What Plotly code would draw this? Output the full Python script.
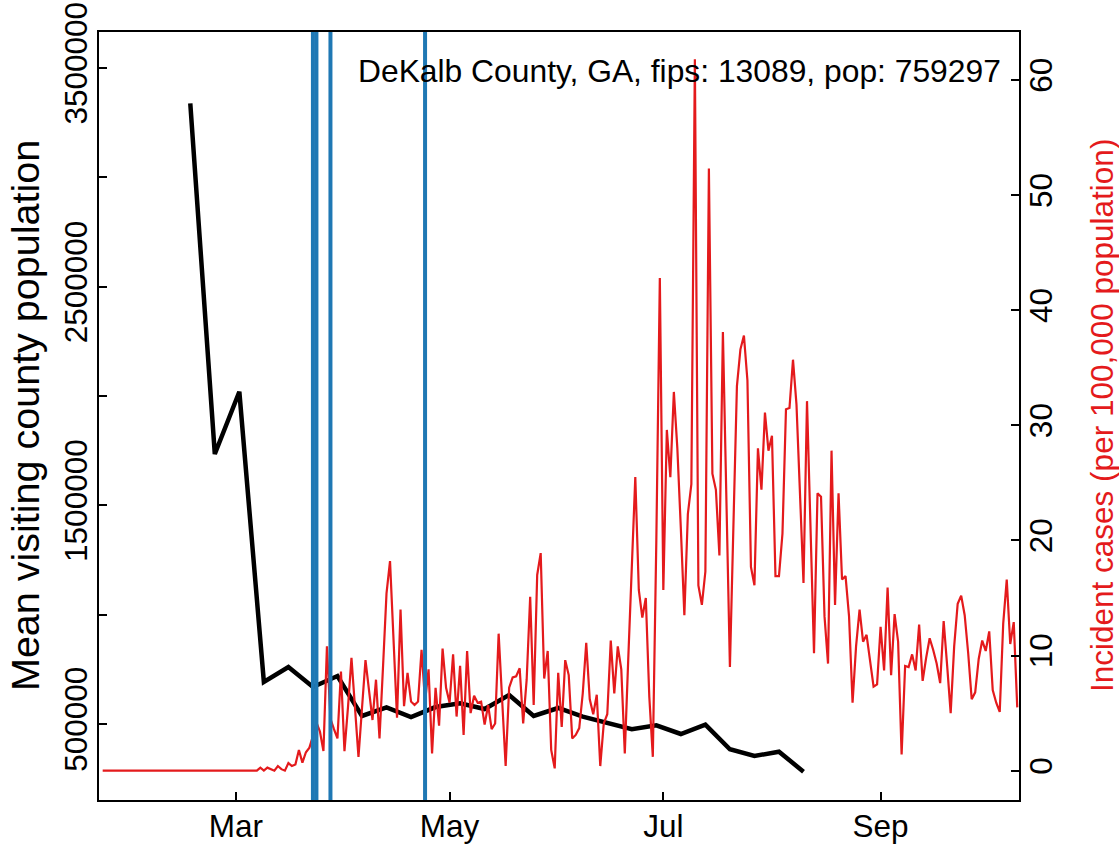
import pandas as pd
import plotly.graph_objects as go

# weekly mean visiting county population (black line)
visit_start = '2020-02-17'
visit_pop = [3338600, 1734800, 2019700, 692100, 760700, 669200, 719500, 536600,
             576400, 532000, 577500, 594700, 568600, 632600, 536600, 573200,
             533400, 503200, 475800, 494100, 454300, 496800, 384300, 353700,
             373300, 281900]

# daily incident cases per 100,000 (red line), from 2020-01-23
case_start = '2020-01-23'
cases = [0.0] * 45 + [
    0.26, 0.0, 0.26, 0.13, 0.0, 0.4, 0.13, 0.0, 0.66, 0.4, 0.53, 1.8, 0.7, 1.6,
    2.0, 3.0, 4.2, 3.4, 1.7, 10.8, 4.5, 3.6, 2.8, 8.6, 1.7, 5.5, 9.8, 5.5, 1.2,
    5.4, 9.6, 7.0, 4.4, 7.9, 2.8, 9.0, 15.4, 18.2, 11.4, 4.6, 14.0, 5.6, 8.5,
    6.0, 5.7, 6.0, 10.5, 6.0, 8.8, 1.5, 7.2, 3.9, 10.6, 7.2, 5.9, 10.1, 4.7,
    9.1, 3.1, 10.4, 5.0, 6.5, 5.9, 6.0, 4.0, 5.7, 3.6, 4.1, 11.9, 6.5, 0.4, 7.2,
    8.1, 8.2, 8.9, 4.1, 7.9, 15.1, 5.7, 17.0, 18.9, 8.0, 10.4, 1.8, 0.2, 8.5,
    3.8, 9.6, 8.3, 2.8, 3.1, 3.7, 6.7, 11.1, 6.2, 4.9, 6.6, 0.4, 4.1, 4.9,
    11.3, 6.7, 10.8, 8.8, 1.5, 9.8, 18.0, 25.5, 15.7, 13.3, 15.0, 6.4, 1.2,
    20.0, 42.8, 15.7, 29.6, 25.5, 32.9, 28.0, 21.0, 13.5, 22.3, 24.9, 61.8,
    16.1, 14.4, 17.3, 52.3, 25.8, 24.4, 18.7, 38.1, 23.5, 9.0, 21.3, 33.4,
    36.6, 37.8, 33.9, 17.7, 16.1, 28.0, 24.4, 31.1, 27.8, 29.1, 16.9, 16.9,
    20.6, 31.4, 31.5, 35.7, 31.8, 24.4, 16.3, 32.1, 21.0, 10.2, 24.1, 23.8,
    13.4, 9.3, 27.8, 14.4, 24.1, 16.6, 16.9, 13.4, 5.9, 10.8, 14.0, 11.2, 11.8,
    9.6, 7.3, 7.5, 12.5, 8.7, 15.9, 8.3, 13.6, 11.2, 1.4, 9.1, 9.0, 10.1, 8.7,
    12.7, 7.8, 9.8, 11.5, 10.5, 9.3, 7.6, 13.0, 9.1, 5.0, 10.8, 14.5, 15.2,
    13.5, 10.2, 6.2, 6.8, 9.7, 11.3, 10.4, 12.1, 7.0, 5.9, 5.1, 12.8, 16.6,
    11.0, 12.9, 5.5]

# policy dates (blue vertical lines)
event_dates = ['2020-03-23', '2020-03-24', '2020-03-28', '2020-04-24']

month_ticks = ['2020-03-01', '2020-05-01', '2020-07-01', '2020-09-01']
month_labels = ['Mar', 'May', 'Jul', 'Sep']
pop_ticks = [500000, 1000000, 1500000, 2000000, 2500000, 3000000, 3500000]
pop_labels = ['500000', '', '1500000', '', '2500000', '', '3500000']
case_ticks = [0, 10, 20, 30, 40, 50, 60]

title_text = 'DeKalb County, GA, fips: 13089, pop: 759297'

visit_dates = pd.date_range(visit_start, periods=len(visit_pop), freq='7D')
case_dates = pd.date_range(case_start, periods=len(cases), freq='D')

font = 'Liberation Sans, Arial, sans-serif'
fs = 31.5
L, R, T, B = 99, 100, 32, 45
pw, ph = 1119 - L - R, 845 - T - B

fig = go.Figure()
fig.add_trace(go.Scatter(x=visit_dates, y=visit_pop, mode='lines',
                         line=dict(color='black', width=4.5), yaxis='y'))
fig.add_trace(go.Scatter(x=case_dates, y=cases, mode='lines',
                         line=dict(color='#e41a1c', width=2.2), yaxis='y2'))

for d in event_dates:
    fig.add_shape(type='line', xref='x', yref='paper', x0=d, x1=d, y0=0, y1=1,
                  line=dict(color='#1f78b4', width=4), layer='above')

axis_common = dict(showgrid=False, zeroline=False, ticks='inside', ticklen=8,
                   tickwidth=2, tickcolor='black', automargin=False,
                   tickfont=dict(family=font, size=fs, color='black'))

fig.update_layout(
    width=1119, height=845,
    margin=dict(l=L, r=R, t=T, b=B, autoexpand=False),
    paper_bgcolor='white', plot_bgcolor='white',
    showlegend=False,
    font=dict(family=font, size=fs, color='black'),
    xaxis=dict(type='date', range=['2020-01-21 22:48', '2020-10-10 12:00'],
               tickvals=month_ticks, ticktext=month_labels, ticklabelstandoff=-3,
               showline=True, linecolor='black', linewidth=2, mirror=True,
               **axis_common),
    yaxis=dict(range=[152400, 3664700], tickvals=pop_ticks, ticktext=pop_labels,
               tickangle=-90, ticklabelstandoff=-3, showline=True,
               linecolor='black', linewidth=2, mirror=True, **axis_common),
    yaxis2=dict(range=[-2.55, 64.17], tickvals=case_ticks, overlaying='y',
                side='right', tickangle=-90, showline=False, **axis_common),
)

fig.add_annotation(text=title_text, xref='paper', yref='paper',
                   x=(1003 - L) / pw, y=(800 - 71) / ph,
                   xanchor='right', yanchor='middle', showarrow=False,
                   font=dict(family=font, size=31.8, color='black'))
fig.add_annotation(text='Mean visiting county population', xref='paper', yref='paper',
                   x=(25 - L) / pw, y=0.5, textangle=-90,
                   xanchor='center', yanchor='middle', showarrow=False,
                   font=dict(family=font, size=39.5, color='black'))
fig.add_annotation(text='Incident cases (per 100,000 population)', xref='paper', yref='paper',
                   x=(1102 - L) / pw, y=0.5, textangle=-90,
                   xanchor='center', yanchor='middle', showarrow=False,
                   font=dict(family=font, size=fs, color='#e41a1c'))

# drop the default page margin so the figure sits at the window's corner
fig.write_html('out.html', config={'displayModeBar': False},
               post_script="document.body.style.margin='0px';")
